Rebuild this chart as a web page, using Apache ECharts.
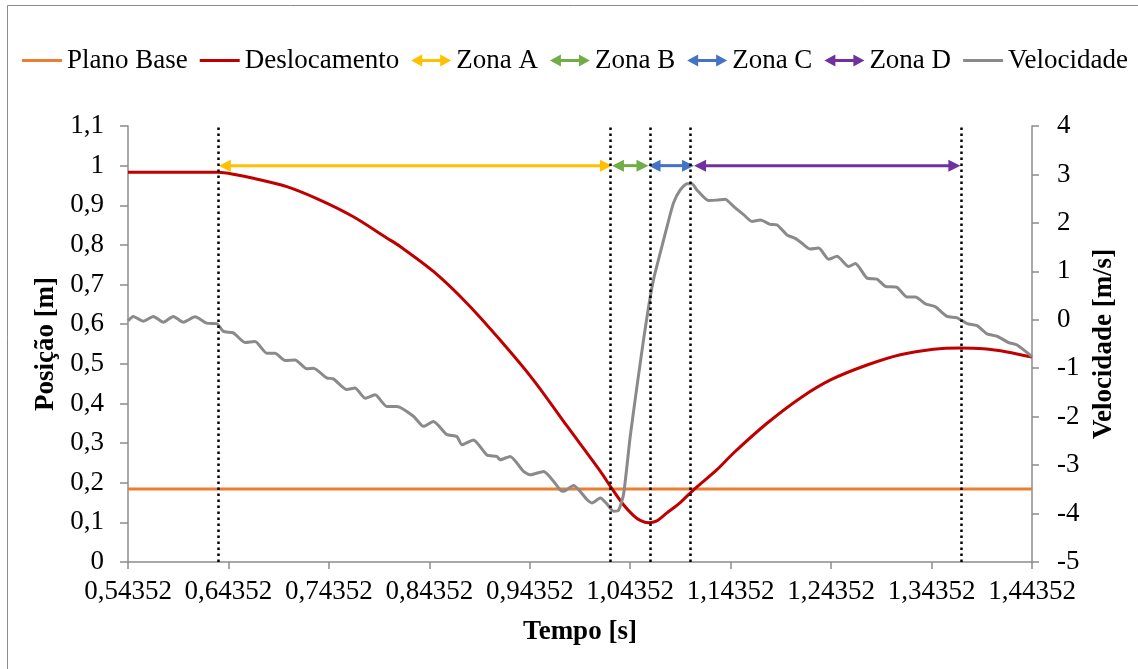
<!DOCTYPE html>
<html>
<head>
<meta charset="utf-8">
<script src="https://cdn.jsdelivr.net/npm/echarts@6/dist/echarts.min.js"></script>
<style>
  html, body { margin: 0; background: #fff; }
  #chart { width: 1138px; height: 669px; }
</style>
</head>
<body>
<div id="chart"></div>
<script>
// ── Data ─────────────────────────────────────────────────────────────────────

const T0 = 0.54352;   // first tick of the time axis
const T1 = 1.44352;   // last tick

const dispTime = [
  0.5435, 0.6332, 0.6511, 0.6683, 0.7016, 0.7348, 0.7679, 0.8015, 0.8145,
  0.8476, 0.8809, 0.9140, 0.9472, 0.9809, 1.0140, 1.0253, 1.0366, 1.0468,
  1.0535, 1.0617, 1.0694, 1.0801, 1.0933, 1.1066, 1.1299, 1.1464, 1.1797,
  1.2130, 1.2434, 1.2793, 1.3124, 1.3456, 1.3722, 1.3954, 1.4187, 1.4435,
];
const dispValue = [
  0.983, 0.983, 0.977, 0.968, 0.947, 0.913, 0.871, 0.817, 0.796,
  0.733, 0.653, 0.560, 0.459, 0.342, 0.228, 0.185, 0.145, 0.117,
  0.105, 0.099, 0.103, 0.124, 0.150, 0.182, 0.233, 0.275, 0.350,
  0.414, 0.460, 0.497, 0.523, 0.537, 0.540, 0.538, 0.530, 0.517,
];

const velTime = [
  0.5435, 0.5488, 0.5588, 0.5687, 0.5787, 0.5886, 0.5986, 0.6103, 0.6219,
  0.6319, 0.6384, 0.6484, 0.6601, 0.6700, 0.6817, 0.6899, 0.6999, 0.7099,
  0.7215, 0.7281, 0.7414, 0.7480, 0.7613, 0.7696, 0.7796, 0.7895, 0.8012,
  0.8111, 0.8277, 0.8376, 0.8476, 0.8609, 0.8709, 0.8759, 0.8874, 0.9008,
  0.9107, 0.9140, 0.9240, 0.9373, 0.9439, 0.9572, 0.9738, 0.9771, 0.9871,
  1.0004, 1.0054, 1.0137, 1.0203, 1.0269, 1.0319, 1.0369, 1.0435, 1.0502,
  1.0568, 1.0618, 1.0667, 1.0734, 1.0801, 1.0866, 1.0933, 1.1000, 1.1049,
  1.1099, 1.1215, 1.1299, 1.1381, 1.1464, 1.1564, 1.1647, 1.1730, 1.1830,
  1.1896, 1.1996, 1.2079, 1.2145, 1.2228, 1.2311, 1.2410, 1.2494, 1.2610,
  1.2676, 1.2793, 1.2892, 1.2975, 1.3091, 1.3191, 1.3274, 1.3374, 1.3473,
  1.3589, 1.3689, 1.3789, 1.3888, 1.3988, 1.4088, 1.4203, 1.4287, 1.4435,
];
const velValue = [
  -0.02, 0.07, -0.03, 0.07, -0.05, 0.07, -0.05, 0.06, -0.07,
  -0.08, -0.24, -0.27, -0.47, -0.45, -0.69, -0.69, -0.84, -0.83,
  -1.01, -1.00, -1.20, -1.22, -1.44, -1.41, -1.62, -1.55, -1.79,
  -1.79, -1.99, -2.20, -2.10, -2.37, -2.41, -2.58, -2.48, -2.79,
  -2.82, -2.89, -2.82, -3.13, -3.20, -3.13, -3.51, -3.54, -3.42,
  -3.71, -3.78, -3.68, -3.80, -3.95, -3.93, -3.60, -2.41, -1.38,
  -0.41, 0.27, 0.83, 1.38, 1.92, 2.41, 2.68, 2.81, 2.81,
  2.68, 2.46, 2.47, 2.49, 2.34, 2.17, 2.03, 2.06, 1.97,
  1.96, 1.75, 1.68, 1.58, 1.46, 1.48, 1.25, 1.31, 1.10,
  1.16, 0.86, 0.84, 0.69, 0.67, 0.47, 0.47, 0.33, 0.27,
  0.07, 0.04, -0.08, -0.12, -0.29, -0.34, -0.47, -0.52, -0.76,
];

const baseTime  = [T0, T1];
const baseValue = [0.184, 0.184];

const zoneNames  = ['Zona A', 'Zona B', 'Zona C', 'Zona D'];
const zoneBounds = [0.6339, 1.0253, 1.0617, 1.1071, 1.3722];   // dotted lines
const zoneLevel  = 1.0;

// ── Style ────────────────────────────────────────────────────────────────────

const FONT = '"Liberation Serif", "Times New Roman", serif';
const AXIS = '#8c8c8c';
const COLOR = {
  base: '#ED7D31', disp: '#C00000', vel: '#8a8a8a',
  zones: ['#FFC000', '#70AD47', '#4472C4', '#7030A0'],
};
const ARROW_ICON = 'path://M0,6 L11,0 L11,4.5 L29,4.5 L29,0 L40,6 L29,12 L29,7.5 L11,7.5 L11,12 Z';
const LINE_ICON  = 'path://M0,0 L40,0 L40,3 L0,3 Z';

const pairs = (ts, vs) => ts.map((t, i) => [t - T0, vs[i]]);
const comma = s => s.replace('.', ',');

// ── Series ───────────────────────────────────────────────────────────────────

const lineSeries = (name, data, color, extra = {}) => ({
  name, type: 'line', data, symbol: 'none', color,
  itemStyle: { color },
  lineStyle: { color, width: 3 },
  emphasis: { disabled: true },
  ...extra,
});

// double-headed arrow between two dotted lines, drawn through the axes
function arrowItem(color) {
  return (params, api) => {
    const a = api.coord([api.value(0), api.value(2)]);
    const b = api.coord([api.value(1), api.value(2)]);
    const L = 12, W = 6;
    return {
      type: 'group',
      children: [
        { type: 'line', shape: { x1: a[0] + L - 1, y1: a[1], x2: b[0] - L + 1, y2: b[1] },
          style: { stroke: color, lineWidth: 3 } },
        { type: 'polygon', shape: { points: [[a[0], a[1]], [a[0] + L, a[1] - W], [a[0] + L, a[1] + W]] },
          style: { fill: color } },
        { type: 'polygon', shape: { points: [[b[0], b[1]], [b[0] - L, b[1] - W], [b[0] - L, b[1] + W]] },
          style: { fill: color } },
      ],
    };
  };
}

const zoneSeries = zoneNames.map((name, i) => ({
  name, type: 'custom', silent: true, z: 4,
  color: COLOR.zones[i], itemStyle: { color: COLOR.zones[i] },
  encode: { x: [0, 1], y: 2 },
  data: [[zoneBounds[i] - T0, zoneBounds[i + 1] - T0, zoneLevel]],
  renderItem: arrowItem(COLOR.zones[i]),
}));

const dividers = {
  name: 'divisores', type: 'line', data: [], symbol: 'none', z: 5,
  markLine: {
    silent: true, symbol: 'none', label: { show: false },
    lineStyle: { color: '#000', width: 2.5, type: [2.5, 3.5] },
    data: zoneBounds.map(t => ({ xAxis: t - T0 })),
  },
};

const chart = echarts.init(document.getElementById('chart'));
chart.setOption({
  animation: false,
  backgroundColor: '#fff',
  textStyle: { fontFamily: FONT },
  graphic: [{
    type: 'rect', silent: true,
    shape: { x: 7.5, y: 5.5, width: 1140, height: 700 },
    style: { fill: 'none', stroke: '#8c8c8c', lineWidth: 1 },
  }],
  legend: {
    top: 42, left: 17, right: 0,
    itemWidth: 40, itemHeight: 12, itemGap: 12,
    textStyle: { fontFamily: FONT, fontSize: 27, color: '#000' },
    data: [
      { name: 'Plano Base', icon: LINE_ICON },
      { name: 'Deslocamento', icon: LINE_ICON },
      ...zoneNames.map(name => ({ name, icon: ARROW_ICON })),
      { name: 'Velocidade', icon: LINE_ICON },
    ],
  },
  grid: { left: 128, right: 106, top: 126, bottom: 107 },
  xAxis: {
    type: 'value', min: 0, max: T1 - T0, interval: 0.1,
    axisLine: { show: true, lineStyle: { color: AXIS, width: 1.5 } },
    axisTick: { show: true, length: 7, lineStyle: { color: AXIS, width: 1.5 } },
    splitLine: { show: false },
    axisLabel: {
      margin: 16, fontSize: 27, color: '#000', fontFamily: FONT,
      formatter: v => comma((T0 + v).toFixed(5)),
    },
    name: 'Tempo [s]', nameLocation: 'middle', nameGap: 57,
    nameTextStyle: { fontFamily: FONT, fontSize: 27, fontWeight: 'bold', color: '#000' },
  },
  yAxis: [{
    type: 'value', position: 'left', min: 0, max: 1.1, interval: 0.1,
    axisLine: { show: true, lineStyle: { color: AXIS, width: 1.5 } },
    axisTick: { show: true, length: 8, lineStyle: { color: AXIS, width: 1.5 } },
    splitLine: { show: false },
    axisLabel: {
      margin: 24, fontSize: 27, color: '#000', fontFamily: FONT,
      formatter: v => comma(String(Math.round(v * 10) / 10)),
    },
    name: 'Posição [m]', nameLocation: 'middle', nameGap: 63, nameRotate: 90,
    nameTextStyle: { fontFamily: FONT, fontSize: 27, fontWeight: 'bold', color: '#000' },
  }, {
    type: 'value', position: 'right', min: -5, max: 4, interval: 1,
    axisLine: { show: true, lineStyle: { color: AXIS, width: 1.5 } },
    axisTick: { show: true, length: 7, lineStyle: { color: AXIS, width: 1.5 } },
    splitLine: { show: false },
    axisLabel: { margin: 25, fontSize: 27, color: '#000', fontFamily: FONT },
    name: 'Velocidade [m/s]', nameLocation: 'middle', nameGap: 56, nameRotate: 90,
    nameTextStyle: { fontFamily: FONT, fontSize: 27, fontWeight: 'bold', color: '#000' },
  }],
  series: [
    lineSeries('Plano Base', pairs(baseTime, baseValue), COLOR.base, { z: 2 }),
    lineSeries('Deslocamento', pairs(dispTime, dispValue), COLOR.disp, { smooth: 0.3, z: 3 }),
    ...zoneSeries,
    lineSeries('Velocidade', pairs(velTime, velValue), COLOR.vel, { yAxisIndex: 1, smooth: 0.2, z: 3 }),
    dividers,
  ],
});
</script>
</body>
</html>
